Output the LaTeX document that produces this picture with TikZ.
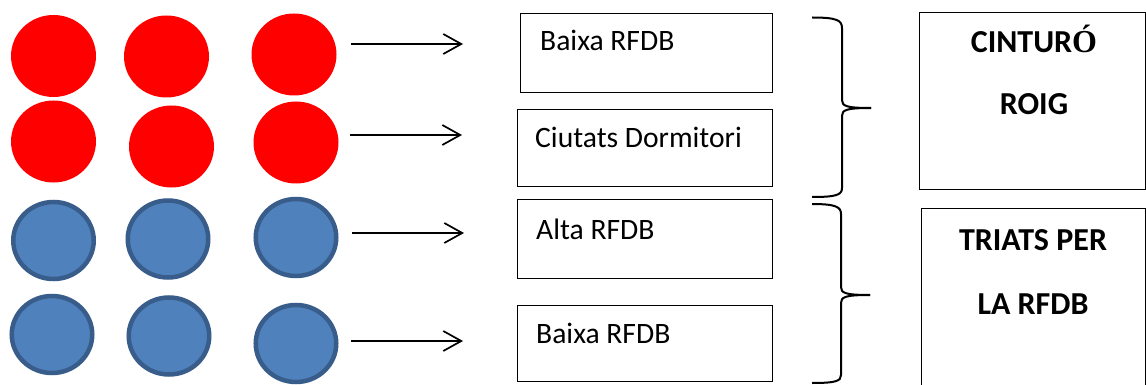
\documentclass[tikz,border=0pt]{standalone}
\usepackage{fontspec}
\setmainfont{Carlito}
\newfontfamily\accentfont{Liberation Serif}
\usetikzlibrary{arrows.meta,shapes.geometric}
\definecolor{redfill}{HTML}{FF0000}
\definecolor{bluefill}{HTML}{4F81BD}
\definecolor{bluedraw}{HTML}{385D8A}
\begin{document}
\begin{tikzpicture}[x=1pt,y=-1pt,
  redc/.style={ellipse, fill=redfill, draw=none, minimum width=85pt, minimum height=82pt, inner sep=0pt},
  bluec/.style={ellipse, fill=bluefill, draw=bluedraw, line width=4.5pt, minimum width=80.5pt, minimum height=77pt, inner sep=0pt},
  box/.style={rectangle, draw=black, line width=1pt, inner sep=0pt},
  label/.style={inner sep=0pt, font=\fontsize{29.6}{31}\selectfont},
  boldlabel/.style={inner sep=0pt, font=\fontsize{32}{34}\selectfont\bfseries},
  arr/.style={-{Straight Barb[length=18pt,width=20pt]}, line width=1.7pt},
  brace/.style={line width=2pt}
]
\clip (0,0) rectangle (1146,385);
\fill[white] (0,0) rectangle (1146,385);
% red circles
\node[redc] (r11) at (53.5,56) {};
\node[redc] (r12) at (166.5,56.5) {};
\node[redc] (r13) at (294,54.5) {};
\node[redc] (r21) at (53.5,141.5) {};
\node[redc] (r22) at (171.5,146.5) {};
\node[redc] (r23) at (296,142.5) {};
% blue circles
\node[bluec] (b11) at (53.5,240.5) {};
\node[bluec] (b12) at (168,239) {};
\node[bluec] (b13) at (296,237.5) {};
\node[bluec] (b21) at (52,334.5) {};
\node[bluec] (b22) at (169,336) {};
\node[bluec] (b23) at (296,343.5) {};
% arrows
\coordinate (a1s) at (351,44);  \coordinate (a1e) at (463,44);
\coordinate (a2s) at (350,135); \coordinate (a2e) at (462,135);
\coordinate (a3s) at (352,233); \coordinate (a3e) at (464,233);
\coordinate (a4s) at (351,341); \coordinate (a4e) at (463,341);
\draw[arr] (a1s) -- (a1e);
\draw[arr] (a2s) -- (a2e);
\draw[arr] (a3s) -- (a3e);
\draw[arr] (a4s) -- (a4e);
% middle boxes
\node[box, minimum width=252pt, minimum height=79pt] (m1) at (646,53.5) {};
\node[box, minimum width=255pt, minimum height=76pt] (m2) at (644.5,148) {};
\node[box, minimum width=255pt, minimum height=79pt] (m3) at (644.5,238.5) {};
\node[box, minimum width=255pt, minimum height=76pt] (m4) at (644.5,343) {};
\node[label, anchor=base west] (t1) at (540,51) {Baixa RFDB};
\node[label, anchor=base west] (t2) at (535,148) {Ciutats Dormitori};
\node[label, anchor=base west] (t3) at (536,239) {Alta RFDB};
\node[label, anchor=base west] (t4) at (536,343) {Baixa RFDB};
% braces
\draw[brace] (812,17.5) .. controls (836,17.5) and (842,20) .. (842,28) -- (842,100) .. controls (842,106) and (846,108) .. (871,108);
\draw[brace] (871,108) .. controls (846,108) and (842,110) .. (842,116) -- (842,188) .. controls (842,195) and (836,197) .. (812,197);
\draw[brace] (812,204) .. controls (836,204) and (841,207) .. (841,214) -- (841,287) .. controls (841,293) and (845,295) .. (870,295);
\draw[brace] (870,295) .. controls (845,295) and (841,297) .. (841,303) -- (841,375) .. controls (841,381) and (836,383) .. (812,383);
% right boxes
\node[box, minimum width=226pt, minimum height=176pt] (rA) at (1032,101) {};
\node[box, minimum width=224pt, minimum height=187pt] (rB) at (1033,301.5) {};
\node[boldlabel, anchor=base] (c1) at (1034,53) {CINTUR{\accentfont\bfseries Ó}};
\node[boldlabel, anchor=base] (c2) at (1034,115) {ROIG};
\node[boldlabel, anchor=base] (c3) at (1033,250) {TRIATS PER};
\node[boldlabel, anchor=base] (c4) at (1033,314) {LA RFDB};
\end{tikzpicture}
\end{document}
